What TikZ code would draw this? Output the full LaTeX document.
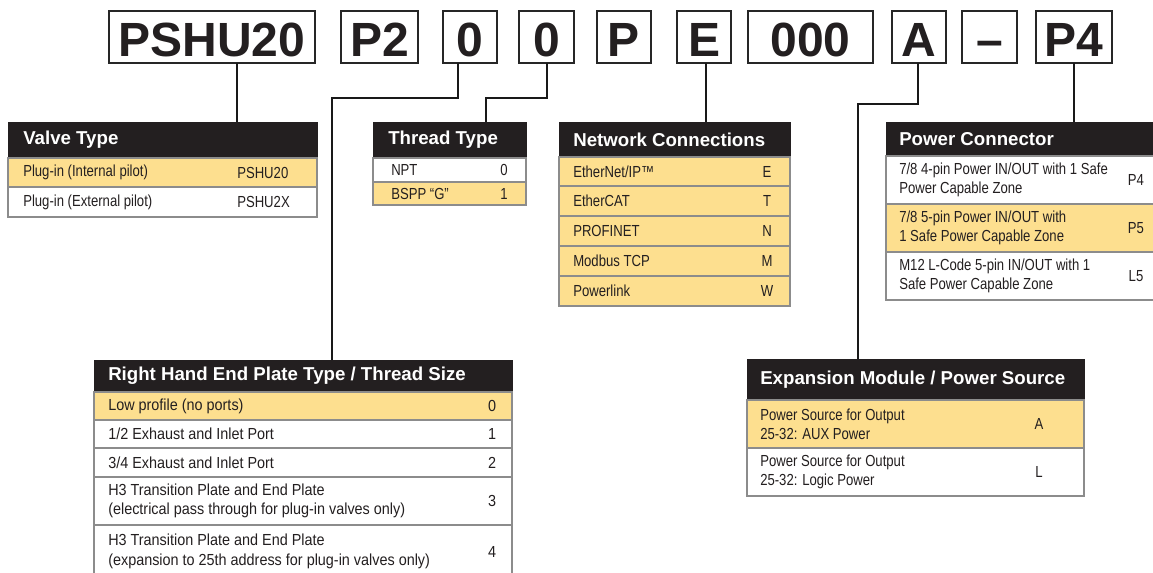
\documentclass[tikz,border=0pt]{standalone}
\usepackage{fontspec}
\setmainfont{Liberation Sans}
\newfontfamily\nar[FakeStretch=0.82]{Liberation Sans}
\newfontfamily\narb[FakeStretch=0.9]{Liberation Sans}
\usetikzlibrary{fit}
\definecolor{hdrblack}{HTML}{231F20}
\definecolor{rowyellow}{HTML}{FDDF8F}
\definecolor{rowline}{HTML}{8C8C8C}
\definecolor{txt}{HTML}{231F20}
\tikzset{
  codebox/.style={draw=black!85, line width=1.1pt, inner sep=0pt},
  codetext/.style={inner sep=0pt, text=txt, anchor=base, yshift=-15pt,
    font=\fontsize{36}{36}\selectfont\bfseries},
  hdr/.style={fill=hdrblack, draw=hdrblack, line width=0.6pt, inner sep=0pt},
  htext/.style={anchor=west, inner sep=0pt, text=white, font=\fontsize{14}{16}\selectfont\bfseries},
  rowy/.style={fill=rowyellow, draw=rowline, line width=0.8pt, inner sep=0pt},
  roww/.style={fill=white, draw=rowline, line width=0.8pt, inner sep=0pt},
  rtext/.style={anchor=west, inner sep=0pt, align=left, text=txt, font=\nar\fontsize{12}{14.5}\selectfont},
  rtextb/.style={anchor=west, inner sep=0pt, align=left, text=txt, font=\narb\fontsize{12}{14.5}\selectfont},
  vtext/.style={inner sep=0pt, text=txt, font=\nar\fontsize{12}{14.5}\selectfont},
  vtextb/.style={inner sep=0pt, text=txt, font=\narb\fontsize{12}{14.5}\selectfont},
  conn/.style={line width=1.2pt, draw=black!90, line join=miter, line cap=rect},
}
% #1 name, #2 style, #3 x1, #4 y1, #5 x2, #6 y2, #7 text x, #8 text, #9 text style
\newcommand\tabrow[9]{%
  \node[#2, fit={(#3,#4) (#5,#6)}] (#1) {};
  \node[#9] (#1t) at ({#7},{(#4+#6)/2}) {#8};
}
\newcommand\codeb[4]{% name, x1, x2, text
  \node[codebox, fit={(#2,11) (#3,63)}] (#1) {};
  \node[codetext] (#1t) at (#1.center) {#4};
}
\begin{document}
\begin{tikzpicture}[x=0.75pt,y=-0.75pt]
\clip (0,0) rectangle (1153,573);
\fill[white] (0,0) rectangle (1153,573);

% ---- code boxes ----
\codeb{c1}{109}{315}{PSHU20}
\codeb{c2}{341}{418}{P2}
\codeb{c3}{443}{497}{0}
\codeb{c4}{519}{574}{0}
\codeb{c5}{597}{651}{P}
\codeb{c6}{677}{731}{E}
\codeb{c7}{748}{873}{000}
\codeb{c8}{892}{946}{A}
\codeb{c9}{962}{1017}{–}
\codeb{c10}{1036}{1112}{P4}

% ---- Valve Type ----
\node[hdr, fit={(8,122) (317,158)}] (vt) {};
\node[htext] (vth) at (23,140) {Valve Type};
\tabrow{vt1}{rowy}{8}{158}{317}{187}{23}{Plug-in (Internal pilot)}{rtext}
\node[vtext, anchor=west] (vt1v) at (237,172.5) {PSHU20};
\tabrow{vt2}{roww}{8}{187}{317}{217}{23}{Plug-in (External pilot)}{rtext}
\node[vtext, anchor=west] (vt2v) at (237,202) {PSHU2X};

% ---- Thread Type ----
\node[hdr, fit={(373,122) (526,158)}] (tt) {};
\node[htext] (tth) at (388,140) {Thread Type};
\tabrow{tt1}{roww}{373}{158}{526}{182}{391}{NPT}{rtext}
\node[vtext] (tt1v) at (504,170) {0};
\tabrow{tt2}{rowy}{373}{182}{526}{205}{391}{BSPP “G”}{rtext}
\node[vtext] (tt2v) at (504,193.5) {1};

% ---- Network Connections ----
\node[hdr, fit={(559,122) (790,157)}] (nc) {};
\node[htext] (nch) at (573,139.5) {Network Connections};
\tabrow{nc1}{rowy}{559}{157}{790}{186}{573}{EtherNet/IP™}{rtext}
\node[vtext] (nc1v) at (767,171.5) {E};
\tabrow{nc2}{rowy}{559}{186}{790}{216}{573}{EtherCAT}{rtext}
\node[vtext] (nc2v) at (767,201) {T};
\tabrow{nc3}{rowy}{559}{216}{790}{246}{573}{PROFINET}{rtext}
\node[vtext] (nc3v) at (767,231) {N};
\tabrow{nc4}{rowy}{559}{246}{790}{276}{573}{Modbus TCP}{rtext}
\node[vtext] (nc4v) at (767,261) {M};
\tabrow{nc5}{rowy}{559}{276}{790}{306}{573}{Powerlink}{rtext}
\node[vtext] (nc5v) at (767,291) {W};

% ---- Power Connector ----
\node[hdr, fit={(886,122) (1165,156)}] (pc) {};
\node[htext] (pch) at (899,139) {Power Connector};
\tabrow{pc1}{roww}{886}{156}{1165}{204}{899}{7/8 4-pin Power IN/OUT with 1 Safe\\Power Capable Zone}{rtext}
\node[vtext] (pc1v) at (1136,180) {P4};
\tabrow{pc2}{rowy}{886}{204}{1165}{252}{899}{7/8 5-pin Power IN/OUT with\\1 Safe Power Capable Zone}{rtext}
\node[vtext] (pc2v) at (1136,228) {P5};
\tabrow{pc3}{roww}{886}{252}{1165}{300}{899}{M12 L-Code 5-pin IN/OUT with 1\\Safe Power Capable Zone}{rtext}
\node[vtext] (pc3v) at (1136,276) {L5};

% ---- Right Hand End Plate ----
\node[hdr, fit={(94,360) (512,392)}] (rh) {};
\node[htext] (rhh) at (108,376) {Right Hand End Plate Type / Thread Size};
\tabrow{rh1}{rowy}{94}{392}{512}{420}{108}{Low profile (no ports)}{rtextb}
\node[vtextb] (rh1v) at (492,406) {0};
\tabrow{rh2}{roww}{94}{420}{512}{448}{108}{1/2 Exhaust and Inlet Port}{rtextb}
\node[vtextb] (rh2v) at (492,434) {1};
\tabrow{rh3}{roww}{94}{448}{512}{477}{108}{3/4 Exhaust and Inlet Port}{rtextb}
\node[vtextb] (rh3v) at (492,462.5) {2};
\tabrow{rh4}{roww}{94}{477}{512}{525}{108}{H3 Transition Plate and End Plate\\(electrical pass through for plug-in valves only)}{rtextb}
\node[vtextb] (rh4v) at (492,501) {3};
\tabrow{rh5}{roww}{94}{525}{512}{578}{108}{H3 Transition Plate and End Plate\\(expansion to 25th address for plug-in valves only)}{rtextb}
\node[vtextb] (rh5v) at (492,551.5) {4};

% ---- Expansion Module ----
\node[hdr, fit={(747,359) (1084,400)}] (em) {};
\node[htext] (emh) at (760,379.5) {Expansion Module / Power Source};
\tabrow{em1}{rowy}{747}{400}{1084}{448}{760}{Power Source for Output\\25-32: AUX Power}{rtext}
\node[vtext] (em1v) at (1039,424) {A};
\tabrow{em2}{roww}{747}{448}{1084}{496}{760}{Power Source for Output\\25-32: Logic Power}{rtext}
\node[vtext] (em2v) at (1039,472) {L};

% ---- connectors ----
\coordinate (k1) at (237,0);
\coordinate (k2) at (458,98);
\coordinate (k3) at (332,98);
\coordinate (k4) at (547,98);
\coordinate (k5) at (486,98);
\coordinate (k6) at (706,0);
\coordinate (k7) at (918,104);
\coordinate (k8) at (858,104);
\coordinate (k9) at (1074,0);
\draw[conn] (k1 |- c1.south) -- (k1 |- vt.north);
\draw[conn] (k2 |- c3.south) -- (k2) -- (k3) -- (k3 |- rh.north);
\draw[conn] (k4 |- c4.south) -- (k4) -- (k5) -- (k5 |- tt.north);
\draw[conn] (k6 |- c6.south) -- (k6 |- nc.north);
\draw[conn] (k7 |- c8.south) -- (k7) -- (k8) -- (k8 |- em.north);
\draw[conn] (k9 |- c10.south) -- (k9 |- pc.north);
\end{tikzpicture}
\end{document}
